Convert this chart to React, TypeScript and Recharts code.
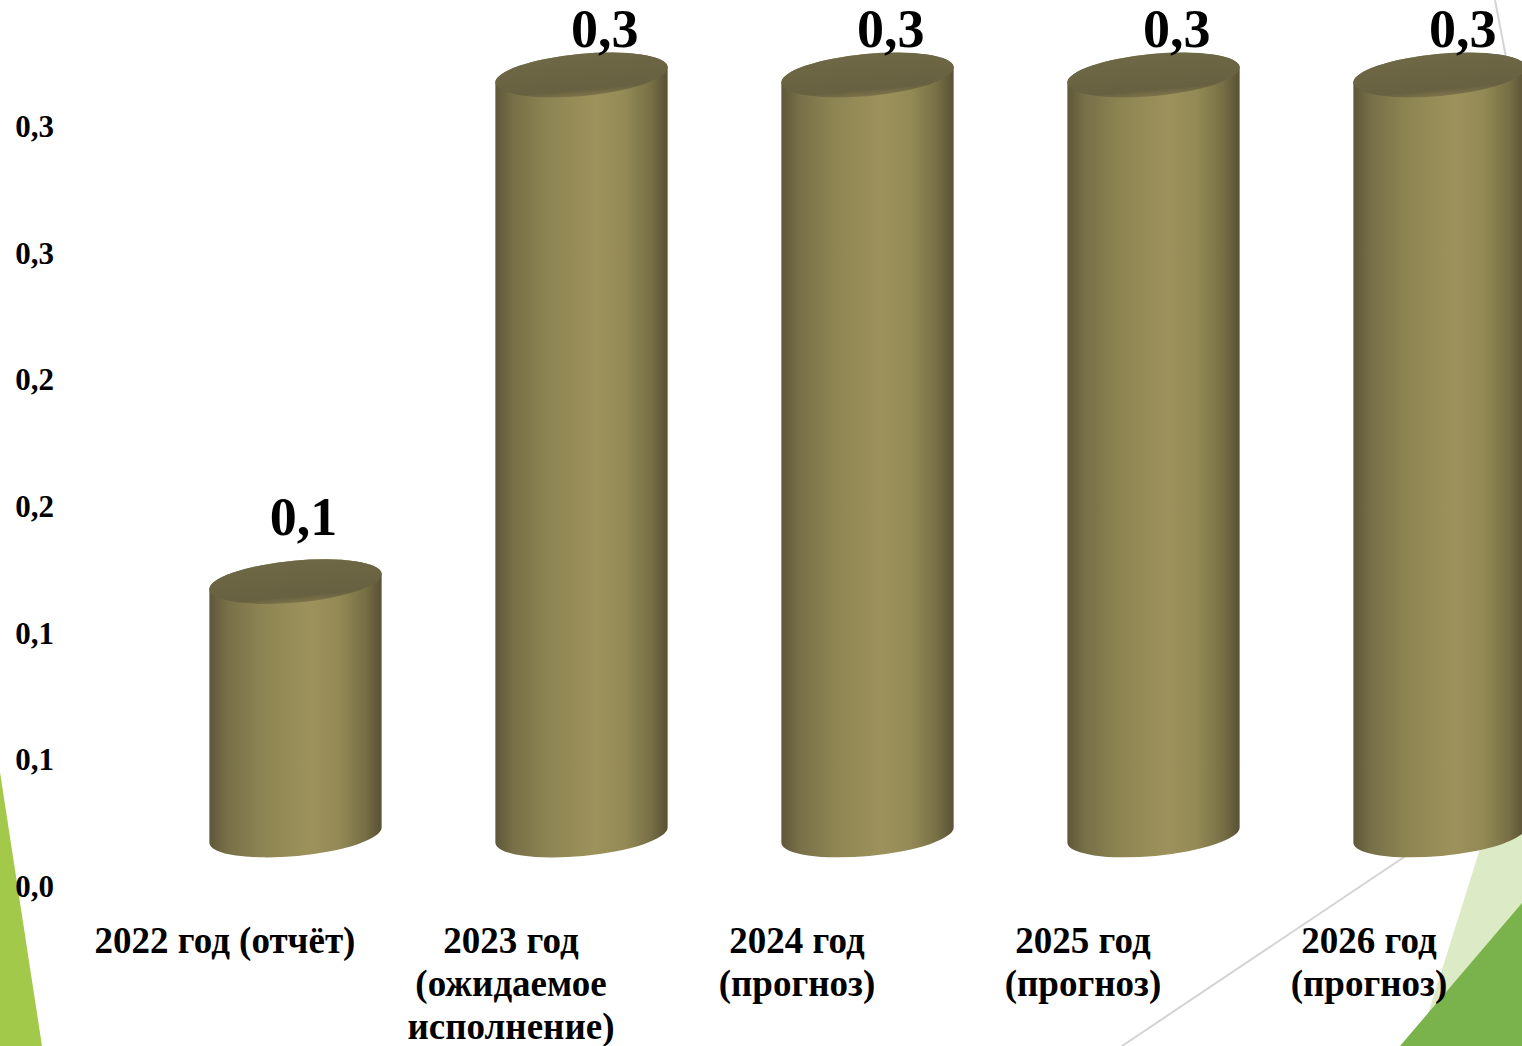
import { BarChart, Bar, XAxis, YAxis, LabelList } from "recharts"

const categories = [
    "2022 год (отчёт)",
    "2023 год\n(ожидаемое\nисполнение)",
    "2024 год\n(прогноз)",
    "2025 год\n(прогноз)",
    "2026 год\n(прогноз)",
]
const values = [0.1, 0.3, 0.3, 0.3, 0.3]
const yTicks = [0, 0.05, 0.1, 0.15, 0.2, 0.25, 0.3]
const yTickLabels = ["0,0", "0,1", "0,1", "0,2", "0,2", "0,3", "0,3"]

const data = categories.map((name, i) => ({ name, value: values[i] }))

const FONT = "'Liberation Serif', 'Times New Roman', serif"
// 3D look: the cylinders sit back and to the right of the axes
const DEPTH_X = 70
const DEPTH_Y = 51
const RY = 21
const ANG = 5.3

function Cylinder(props: any) {
    const { x, y, width, height } = props
    if (height == null || width == null) return null
    const cx = x + width / 2 + DEPTH_X
    const a = width / 2
    const t = (ANG * Math.PI) / 180
    const ex = a * Math.cos(t)
    const ey = a * Math.sin(t)
    const top = y - DEPTH_Y
    const bottom = y + height - DEPTH_Y
    const body = `M ${cx - ex} ${top + ey} L ${cx - ex} ${bottom + ey} A ${a} ${RY} ${-ANG} 0 0 ${cx + ex} ${bottom - ey} L ${cx + ex} ${top - ey} A ${a} ${RY} ${-ANG} 0 0 ${cx - ex} ${top + ey} Z`
    return (
        <g>
            <path d={body} fill="url(#cylBody)" />
            <ellipse cx={cx} cy={top} rx={a} ry={RY} transform={`rotate(${-ANG} ${cx} ${top})`} fill="url(#cylTop)" />
        </g>
    )
}

function XTick(props: any) {
    const { x, y, payload } = props
    const lines = String(payload.value).split("\n")
    return (
        <g>
            {lines.map((line, i) => (
                <text key={i} x={x} y={y + 59 + i * 43} textAnchor="middle"
                    fontFamily={FONT} fontWeight="bold" fontSize={37} fill="#000">
                    {line}
                </text>
            ))}
        </g>
    )
}

function YTick(props: any) {
    const { y, index } = props
    return (
        <text x={54} y={y} dy="0.35em" textAnchor="end"
            fontFamily={FONT} fontWeight="bold" fontSize={31} fill="#000">
            {yTickLabels[index]}
        </text>
    )
}

function ValueLabel(props: any) {
    const { x, y, width, height, value } = props
    // labels drift right on taller bars (perspective of the original 3D chart)
    const cx = x + width / 2 + DEPTH_X + 8 + (height - 253) * 0.03
    const base = Math.max(y - DEPTH_Y - 47, 47)
    return (
        <text x={cx} y={base} textAnchor="middle"
            fontFamily={FONT} fontWeight="bold" fontSize={54} fill="#000">
            {Number(value).toFixed(1).replace(".", ",")}
        </text>
    )
}

function Decor() {
    return (
        <svg width={1522} height={1046} style={{ position: "absolute", left: 0, top: 0 }}>
            <polygon points="0,772 0,1046 42,1046" fill="#a3c94a" />
            <polygon points="1522,715 1418,1046 1522,1046" fill="#dcebc6" />
            <polygon points="1522,903 1400,1046 1522,1046" fill="#7ab24c" />
            <line x1={1122} y1={1046} x2={1522} y2={778} stroke="#d4d4d4" strokeWidth={2} />
            <line x1={1495} y1={0} x2={1520} y2={130} stroke="#d4d4d4" strokeWidth={2} />
        </svg>
    )
}

export default function App() {
    return (
        <div style={{ position: "absolute", left: 0, top: 0, width: 1522, height: 1046, background: "#fff", overflow: "hidden" }}>
            <Decor />
            <div style={{ position: "absolute", left: 0, top: 0 }}>
                <BarChart width={1522} height={1046} data={data}
                    margin={{ top: 126, right: 10, bottom: 60, left: 0 }}>
                    <defs>
                        <linearGradient id="cylBody" x1="0" y1="0" x2="1" y2="0">
                            <stop offset="0%" stopColor="#5e5739" />
                            <stop offset="10%" stopColor="#776f47" />
                            <stop offset="30%" stopColor="#8d8453" />
                            <stop offset="58%" stopColor="#9d925b" />
                            <stop offset="75%" stopColor="#948a56" />
                            <stop offset="90%" stopColor="#787046" />
                            <stop offset="100%" stopColor="#585134" />
                        </linearGradient>
                        <linearGradient id="cylTop" x1="0" y1="0" x2="0" y2="1">
                            <stop offset="0%" stopColor="#6f6846" />
                            <stop offset="85%" stopColor="#686141" />
                            <stop offset="100%" stopColor="#7d744a" />
                        </linearGradient>
                    </defs>
                    <XAxis dataKey="name" height={100} axisLine={false} tickLine={false}
                        interval={0} tick={<XTick />} />
                    <YAxis width={82} domain={[0, 0.3]} ticks={yTicks} axisLine={false}
                        tickLine={false} interval={0} tick={<YTick />} />
                    <Bar dataKey="value" barSize={173} shape={<Cylinder />} isAnimationActive={false}>
                        <LabelList dataKey="value" content={<ValueLabel />} />
                    </Bar>
                </BarChart>
            </div>
        </div>
    )
}
